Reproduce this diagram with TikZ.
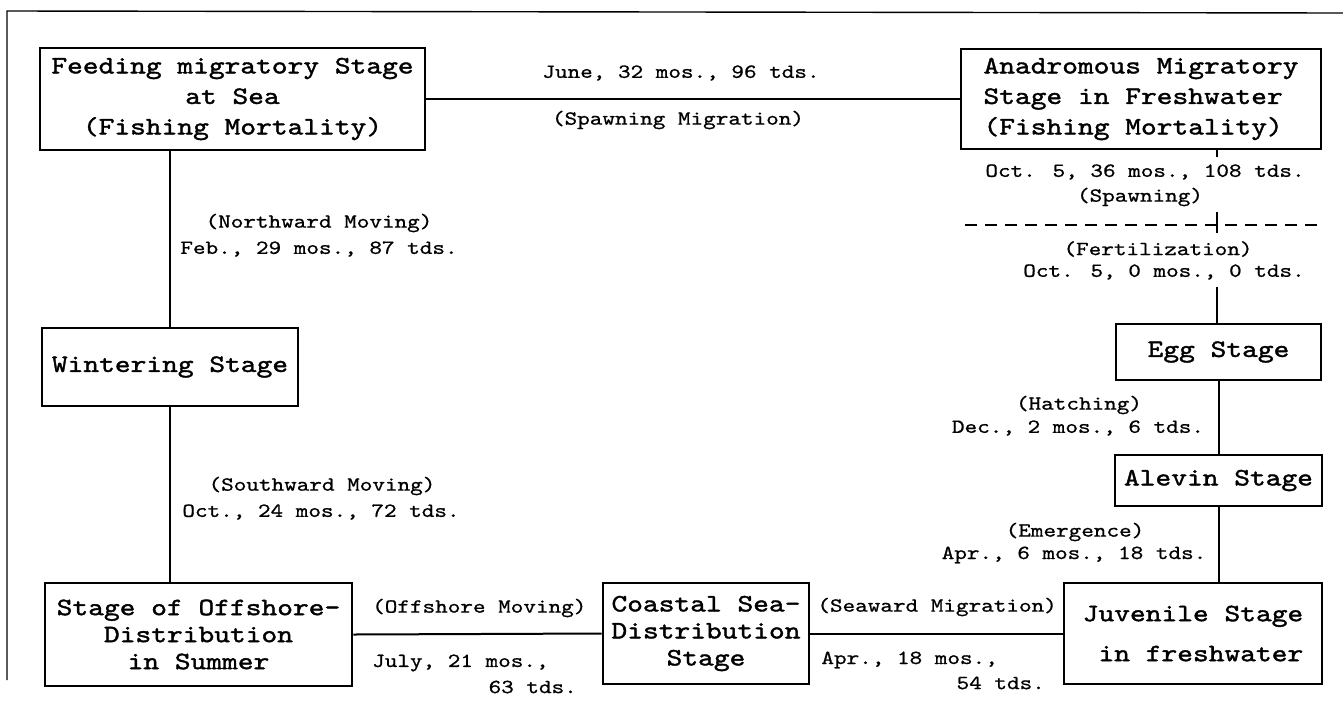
\documentclass[tikz,border=0pt]{standalone}
\usepackage{fontspec}
\newfontfamily\boxfnt[Extension=.otf,FakeStretch=1.2,FakeBold=1.5]{lmmono10-regular}
\newfontfamily\labfnt[Extension=.otf,FakeStretch=1.2,FakeBold=0.8]{lmmono10-regular}
\tikzset{
  stagebox/.style={draw, line width=2.8pt, inner sep=0pt, align=center,
    font=\boxfnt\fontsize{25}{30.5}\selectfont},
  lab/.style={inner sep=0pt, font=\labfnt\fontsize{20}{24}\selectfont},
  conn/.style={line width=2pt},
  thinconn/.style={line width=1.5pt},
  framel/.style={line width=1.4pt}
}
\begin{document}
\begin{tikzpicture}[x=1pt,y=-1pt]
\useasboundingbox (0,0) rectangle (1343,713);
% frame
\coordinate (ftl) at (7,11);
\coordinate (ftr) at (1343,13);
\coordinate (fbl) at (7,680);
\draw[framel] (fbl) -- (ftl) -- (ftr);

% stages
\node[stagebox, minimum width=385pt, minimum height=102pt] (feed) at (232.5,99)
  {Feeding migratory Stage\\at Sea\\(Fishing Mortality)};
\node[stagebox, align=left, minimum width=360pt, minimum height=100pt] (anad) at (1141,99)
  {Anadromous Migratory\\Stage in Freshwater\\(Fishing Mortality)};
\node[stagebox, minimum width=256pt, minimum height=78pt] (wint) at (170,367)
  {Wintering Stage};
\node[stagebox, minimum width=205pt, minimum height=56pt] (egg) at (1218.5,352)
  {Egg Stage};
\node[stagebox, minimum width=207pt, minimum height=51pt] (alev) at (1218.5,480.5)
  {Alevin Stage};
\node[stagebox, minimum width=307pt, minimum height=103pt,
  font=\boxfnt\fontsize{25}{27}\selectfont] (off) at (198.5,634.5)
  {Stage of Offshore-\\Distribution\\in Summer};
\node[stagebox, minimum width=206pt, minimum height=101pt,
  font=\boxfnt\fontsize{25}{27}\selectfont] (coast) at (706,633.5)
  {Coastal Sea-\\Distribution\\Stage};
\node[stagebox, align=left, minimum width=258pt, minimum height=101pt,
  font=\boxfnt\fontsize{25}{40}\selectfont] (juv) at (1193,633.5)
  {Juvenile Stage\\\hphantom{J}in freshwater};

% connectors
\draw[conn] (feed.east) -- (anad.west);
\draw[thinconn] (wint.north) -- (wint.north |- feed.south);
\draw[thinconn] (wint.south) -- (wint.south |- off.north);
\draw[conn] (off.east) -- (coast.west);
\draw[conn] (coast.east) -- (juv.west);
\draw[conn] (egg.south) -- (alev.north);
\draw[conn] (alev.south) -- (alev.south |- juv.north);

% spawning / fertilization
\coordinate (sp1) at (1217,157);
\coordinate (dl) at (965,225);
\coordinate (dr) at (1321,225);
\coordinate (tk1) at (1217,212);
\coordinate (tk2) at (1217,233);
\coordinate (fe) at (1217,287);
\draw[conn] (sp1 |- anad.south) -- (sp1);
\draw[conn, dash pattern=on 12pt off 8pt] (dl) -- (dr);
\draw[conn] (tk1) -- (tk2);
\draw[conn] (fe) -- (fe |- egg.north);

% labels
\node[lab] (l1) at (681,73) {June, 32 mos., 96 tds.};
\node[lab] (l2) at (678,120) {(Spawning Migration)};
\node[lab] (l3) at (1145,172) {Oct. 5, 36 mos., 108 tds.};
\node[lab] (l4) at (1140,197) {(Spawning)};
\node[lab] (l5) at (1158,249) {(Fertilization)};
\node[lab] (l6) at (1164,272) {Oct. 5, 0 mos., 0 tds.};
\node[lab] (l7) at (319,223) {(Northward Moving)};
\node[lab] (l8) at (319,249) {Feb., 29 mos., 87 tds.};
\node[lab] (l9) at (322,486) {(Southward Moving)};
\node[lab] (l10) at (321,512) {Oct., 24 mos., 72 tds.};
\node[lab] (l11) at (1079,405) {(Hatching)};
\node[lab] (l12) at (1078,428) {Dec., 2 mos., 6 tds.};
\node[lab] (l13) at (1075,532) {(Emergence)};
\node[lab] (l14) at (1074,555) {Apr., 6 mos., 18 tds.};
\node[lab, anchor=west] (l15) at (372,608) {(Offshore Moving)};
\node[lab, anchor=west] (l16) at (372,663) {July, 21 mos.,};
\node[lab, anchor=east] (l17) at (577,687) {63 tds.};
\node[lab, anchor=east] (l18) at (1057,607) {(Seaward Migration)};
\node[lab, anchor=east] (l19) at (998,660) {Apr., 18 mos.,};
\node[lab, anchor=east] (l20) at (1045,683) {54 tds.};
\end{tikzpicture}
\end{document}
